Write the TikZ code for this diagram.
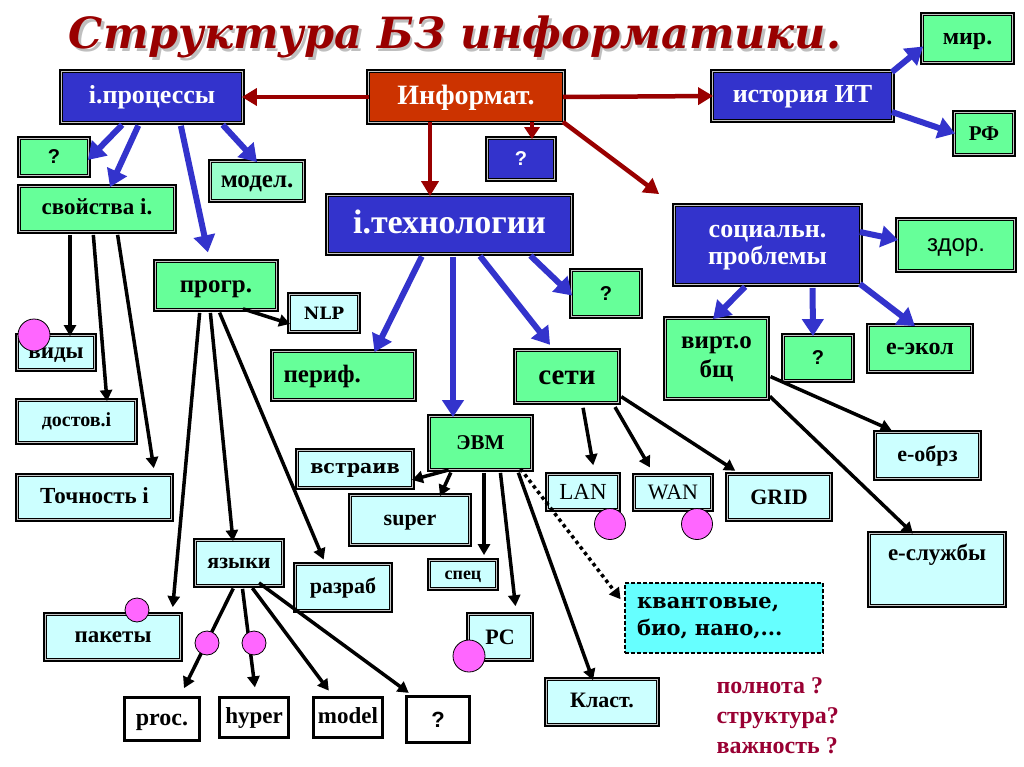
\documentclass[tikz,border=0pt]{standalone}
\usepackage{fontspec}
\setmainfont{Liberation Serif}
\setsansfont{Liberation Sans}
\setmonofont{Liberation Mono}
\newfontfamily\titlefont{DejaVu Serif}
\newfontfamily\slabfont{DejaVu Serif}
\usetikzlibrary{arrows.meta}
\newcommand{\fsz}[2]{\fontsize{#1}{#2}\selectfont}
\definecolor{boxblue}{RGB}{51,51,204}
\definecolor{boxgreen}{RGB}{102,255,153}
\definecolor{boxmint}{RGB}{153,255,204}
\definecolor{boxcyan}{RGB}{204,255,255}
\definecolor{boxaqua}{RGB}{102,255,255}
\definecolor{boxorange}{RGB}{204,51,0}
\definecolor{arrred}{RGB}{153,0,0}
\definecolor{dotpink}{RGB}{255,102,255}
\definecolor{titlered}{RGB}{153,0,0}
\definecolor{notered}{RGB}{153,0,51}
\pgfkeys{tikz/dframe/.style={draw=black, line width=0.8pt, inner sep=3pt, align=center,
                             preaction={draw=black, line width=7pt},
                             preaction={draw=gray!45, line width=3pt}}}
\pgfkeys{tikz/bbox/.style={dframe, fill=boxblue, text=white}}
\pgfkeys{tikz/gbox/.style={dframe, fill=boxgreen}}
\pgfkeys{tikz/cbox/.style={dframe, fill=boxcyan}}
\pgfkeys{tikz/wbox/.style={draw=black, line width=2.5pt, fill=white, inner sep=3pt}}
\pgfkeys{tikz/tsz/.code={\pgfmathsetlengthmacro\tszh{#1*0.74pt}%
                         \pgfmathsetlengthmacro\tszd{#1*0.22pt}%
                         \tikzset{text height=\tszh, text depth=\tszd}}}
\pgfkeys{tikz/pinkdot/.style={circle, draw=black, line width=0.8pt, fill=dotpink, inner sep=0pt}}
\pgfkeys{tikz/redarr/.style={draw=arrred, line width=4.5pt, -{Triangle[length=15pt,width=17pt]}}}
\pgfkeys{tikz/bluearr/.style={draw=boxblue, line width=6pt, -{Triangle[length=17pt,width=21pt]}, shorten <=4pt}}
\pgfkeys{tikz/blackarr/.style={draw=black, line width=3.5pt, -{Triangle[length=11pt,width=12pt]}, shorten <=4pt}}

\begin{document}
\begin{tikzpicture}[x=1pt, y=-1pt]
                \fill[white] (0,0) rectangle (1024,767);
                \useasboundingbox (0,0) rectangle (1024,767);

                % title
                \node[text=gray!50, font=\titlefont\bfseries\itshape\fsz{43}{47}] (shade) at (457.5,39.5) {Структура БЗ информатики.};
                \node[text=titlered, font=\titlefont\bfseries\itshape\fsz{43}{47}] (title) at (455,37) {Структура БЗ информатики.};

                % top row
                \node[dframe, fill=boxorange, text=white, minimum width=193, minimum height=49, tsz=28, font=\bfseries\fsz{28}{30}] (inf) at (466,97) {Информат.};
                \node[bbox, minimum width=179, minimum height=49, tsz=26, font=\bfseries\fsz{26}{28}] (proc) at (152,97) {i.процессы};
                \node[bbox, minimum width=178, minimum height=47, tsz=26, font=\bfseries\fsz{26}{28}] (hist) at (802.5,96) {история ИТ};
                \node[gbox, minimum width=88, minimum height=46, tsz=24, font=\bfseries\fsz{24}{26}] (mir) at (967.5,38.5) {мир.};
                \node[gbox, minimum width=57, minimum height=40, font=\bfseries\fsz{21}{24}] (rf) at (984,133.5) {РФ};
                \node[bbox, minimum width=65, minimum height=39, font=\sffamily\bfseries\fsz{20}{22}] (qb) at (521,159) {?};

                % processes
                \node[gbox, minimum width=67, minimum height=35, font=\sffamily\bfseries\fsz{20}{22}] (q1) at (54,157) {?};
                \node[gbox, minimum width=153, minimum height=43, tsz=23, font=\bfseries\fsz{23}{25}] (svo) at (97,209) {свойства i.};
                \node[dframe, fill=boxmint, minimum width=91, minimum height=37, tsz=25, font=\bfseries\fsz{25}{27}] (model) at (257,181) {модел.};
                \node[gbox, minimum width=119, minimum height=46, tsz=25, font=\bfseries\fsz{25}{27}] (progr) at (216,285.5) {прогр.};
                \node[cbox, minimum width=67, minimum height=35, font=\slabfont\bfseries\fsz{17}{19}] (nlp) at (324,313) {NLP};
                \node[cbox, minimum width=75, minimum height=32, tsz=23, font=\bfseries\fsz{23}{25}] (vidy) at (56,352.5) {виды};
                \node[cbox, minimum width=116, minimum height=40, tsz=20, font=\bfseries\fsz{20}{22}] (dost) at (76.5,421.5) {достов.i};
                \node[cbox, minimum width=152, minimum height=42, tsz=23, font=\bfseries\fsz{23}{25}] (tochn) at (94.5,497.5) {Точность i};
                \node[cbox, minimum width=85, minimum height=43, tsz=22, font=\bfseries\fsz{22}{24}] (yaz) at (239,563) {языки};
                \node[cbox, minimum width=93, minimum height=44, tsz=22, font=\bfseries\fsz{22}{24}] (razr) at (343,587.5) {разраб};
                \node[cbox, minimum width=133, minimum height=43, tsz=23, font=\bfseries\fsz{23}{25}] (pak) at (113,637) {пакеты};
                \node[wbox, minimum width=75, minimum height=43, tsz=24, font=\bfseries\fsz{24}{26}] (wproc) at (162,719) {proc.};
                \node[wbox, minimum width=69, minimum height=40, tsz=23, font=\bfseries\fsz{23}{25}] (whyp) at (254,717.5) {hyper};
                \node[wbox, minimum width=69, minimum height=40, tsz=23, font=\bfseries\fsz{23}{25}] (wmod) at (348,717.5) {model};
                \node[wbox, minimum width=63, minimum height=46, font=\sffamily\bfseries\fsz{22}{24}] (wq) at (438,719.5) {?};

                % technologies
                \node[bbox, minimum width=242, minimum height=56, tsz=34, font=\bfseries\fsz{34}{36}] (tech) at (449.5,224.5) {i.технологии};
                \node[gbox, minimum width=67, minimum height=44, font=\sffamily\bfseries\fsz{20}{22}] (q2) at (606,293.5) {?};
                \node[gbox, minimum width=140, minimum height=46, inner xsep=10pt, text width=120pt, align=left, tsz=25, font=\bfseries\fsz{25}{27}] (perif) at (343.5,375.5) {периф.};
                \node[gbox, minimum width=101, minimum height=50, tsz=29, font=\bfseries\fsz{29}{31}] (seti) at (567,376.5) {сети};
                \node[gbox, minimum width=100, minimum height=51, font=\bfseries\fsz{21}{23}] (evm) at (480.5,443) {ЭВМ};
                \node[cbox, minimum width=113, minimum height=35, tsz=19, font=\slabfont\bfseries\fsz{19}{21}] (vstr) at (355,469) {встраив};
                \node[cbox, minimum width=117, minimum height=47, tsz=22, font=\bfseries\fsz{22}{24}] (super) at (410,520) {super};
                \node[cbox, minimum width=65, minimum height=26, tsz=18, font=\bfseries\fsz{18}{20}] (spec) at (463,574.5) {спец};
                \node[cbox, minimum width=61, minimum height=43, font=\bfseries\fsz{22}{24}] (pc) at (500,637) {PC};
                \node[cbox, minimum width=109, minimum height=43, tsz=22, font=\bfseries\fsz{22}{24}] (klast) at (602,702) {Класт.};
                \node[cbox, minimum width=69, minimum height=33, font=\fsz{23}{25}] (lan) at (583,492) {LAN};
                \node[cbox, minimum width=75, minimum height=32, font=\fsz{22}{24}] (wan) at (673,492.5) {WAN};
                \node[cbox, minimum width=101, minimum height=43, font=\bfseries\fsz{22}{24}] (grid) at (779,497) {GRID};
                \node[draw=black, line width=1.5pt, dash pattern=on 4pt off 2pt, fill=boxaqua, minimum width=198, minimum height=70,
                      inner xsep=12pt, text width=174pt, align=left, font=\slabfont\bfseries\fsz{21}{27}] (kvant) at (724,618) {квантовые,\\био, нано,...};

                % social problems
                \node[bbox, minimum width=184, minimum height=77, text height=54.5pt, text depth=16.5pt, font=\bfseries\fsz{26}{27}] (soc) at (767.5,245) {социальн.\\проблемы};
                \node[gbox, minimum width=115, minimum height=49, tsz=24, font=\sffamily\fsz{24}{26}] (zdor) at (956,245) {здор.};
                \node[gbox, minimum width=100, minimum height=78, text height=55.3pt, text depth=16.7pt, font=\bfseries\fsz{25}{29}] (virt) at (716.5,358.5) {вирт.о\\бщ};
                \node[gbox, minimum width=67, minimum height=43, font=\sffamily\bfseries\fsz{20}{22}] (q3) at (818,358) {?};
                \node[gbox, minimum width=101, minimum height=44, tsz=24, font=\bfseries\fsz{24}{26}] (ekol) at (920,348.5) {е-экол};
                \node[cbox, minimum width=102, minimum height=44, tsz=22, font=\bfseries\fsz{22}{24}] (eobrz) at (927.5,455.5) {е-обрз};
                \node[cbox, minimum width=133, text height=23pt, text depth=41pt, font=\bfseries\fsz{23}{25}] (eslu) at (937,569) {е-службы};

                % questions
                \node[anchor=north west, align=left, text=notered, font=\bfseries\fsz{24}{30}] (note) at (713,674) {полнота ?\\структура?\\важность ?};

                % red arrows
                \draw[redarr] (inf.west) -- (proc.east);
                \draw[redarr] (inf.east) -- (hist.west);
                \draw[redarr] ([xshift=-36pt]inf.south) -- ([xshift=-19.5pt]tech.north);
                \draw[redarr, -{Triangle[length=12pt,width=15pt]}] ([xshift=66pt]inf.south) -- ([xshift=11pt]qb.north);
                \draw[redarr, shorten >=20pt] (inf.south east) -- (soc.north west);

                % blue arrows
                \draw[bluearr] ([xshift=-27pt]proc.south) -- ([yshift=-3pt]q1.east);
                \draw[bluearr] ([xshift=-12pt]proc.south) -- ([xshift=13pt]svo.north);
                \draw[bluearr, shorten >=10pt] ([xshift=28pt]proc.south) -- ([xshift=-6pt]progr.north);
                \draw[bluearr] ([xshift=68pt]proc.south) -- (model.north);
                \draw[bluearr, shorten <=0pt] (hist.north east) -- ([yshift=-8pt]mir.west);
                \draw[bluearr, shorten <=0pt] ([yshift=-16pt]hist.east) -- (rf.west);
                \draw[bluearr] ([xshift=-26pt]tech.south) -- ([xshift=31pt]perif.north);
                \draw[bluearr] ([xshift=3.5pt]tech.south) -- ([xshift=-27.5pt]evm.north);
                \draw[bluearr, shorten >=8pt] ([xshift=28pt]tech.south) -- ([xshift=-12pt]seti.north);
                \draw[bluearr] ([xshift=78pt]tech.south) -- ([yshift=-2pt]q2.west);
                \draw[bluearr] ([xshift=-19.5pt]soc.south) -- ([xshift=-3.5pt]virt.north);
                \draw[bluearr] ([xshift=45pt]soc.south) -- ([xshift=-5pt]q3.north);
                \draw[bluearr, shorten <=0pt] (soc.south east) -- ([xshift=-5pt]ekol.north);
                \draw[bluearr, shorten <=0pt] ([yshift=13pt]soc.east) -- ([yshift=5pt]zdor.west);

                % black arrows
                \draw[blackarr] ([xshift=-27pt]svo.south) -- ([xshift=14pt]vidy.north);
                \draw[blackarr] ([xshift=-4pt]svo.south) -- ([xshift=30.5pt]dost.north);
                \draw[blackarr, shorten >=8pt] ([xshift=20pt]svo.south) -- ([xshift=60.5pt]tochn.north);
                \draw[blackarr, shorten >=8pt] ([xshift=-16pt]progr.south) -- ([xshift=59pt]pak.north);
                \draw[blackarr] ([xshift=-6pt]progr.south) -- ([xshift=-6pt]yaz.north);
                \draw[blackarr, shorten >=6pt] ([xshift=2pt]progr.south) -- ([xshift=-17pt]razr.north);
                \draw[blackarr, shorten <=0pt] ([xshift=27pt]progr.south) -- ([yshift=7pt]nlp.south west);
                \draw[blackarr, shorten >=9pt] ([xshift=-4pt]yaz.south) -- ([xshift=18pt]wproc.north);
                \draw[blackarr, shorten >=9pt] ([xshift=3pt]yaz.south) -- ([xshift=2pt]whyp.north);
                \draw[blackarr, shorten >=7pt] ([xshift=11pt]yaz.south) -- ([xshift=-15pt]wmod.north);
                \draw[blackarr, shorten <=0pt, shorten >=4pt] ([xshift=20pt,yshift=2pt]yaz.south) -- ([xshift=-26pt]wq.north);
                \draw[blackarr] ([xshift=-28pt]evm.south) -- ([yshift=7pt]vstr.south east);
                \draw[blackarr] ([xshift=-28pt]evm.south) -- ([xshift=30pt]super.north);
                \draw[blackarr, shorten >=6pt] ([xshift=3.5pt]evm.south) -- ([xshift=21pt]spec.north);
                \draw[blackarr, shorten >=9pt] ([xshift=19.5pt]evm.south) -- ([xshift=16.5pt]pc.north);
                \draw[blackarr] ([xshift=36.5pt]evm.south) -- ([xshift=-9pt]klast.north);
                \draw[blackarr, dash pattern=on 3.5pt off 3.5pt, shorten <=0pt, shorten >=6pt] ([xshift=40pt]evm.south) -- ([yshift=14pt]kvant.west);
                \draw[blackarr, shorten <=6pt, shorten >=10pt] ([xshift=15pt]seti.south) -- ([xshift=12pt]lan.north);
                \draw[blackarr, shorten <=6pt, shorten >=10pt] ([xshift=45pt]seti.south) -- ([xshift=-18pt]wan.north);
                \draw[blackarr, shorten >=8pt] ([yshift=-18pt]seti.east) -- ([xshift=-37pt]grid.north);
                \draw[blackarr, shorten >=7pt] ([yshift=-16.5pt]virt.east) -- ([xshift=-29.5pt]eobrz.north);
                \draw[blackarr] ([yshift=-35pt]virt.east) -- ([xshift=-24pt]eslu.north);

                % markers
                \node[pinkdot, minimum size=32] (d1) at (34,335) {};
                \node[pinkdot, minimum size=24] (d2) at (137,610) {};
                \node[pinkdot, minimum size=24] (d3) at (207,643) {};
                \node[pinkdot, minimum size=24] (d4) at (254,643) {};
                \node[pinkdot, minimum size=31] (d5) at (610,524) {};
                \node[pinkdot, minimum size=31] (d6) at (697,524) {};
                \node[pinkdot, minimum size=32] (d7) at (469,656) {};
\end{tikzpicture}
\end{document}
